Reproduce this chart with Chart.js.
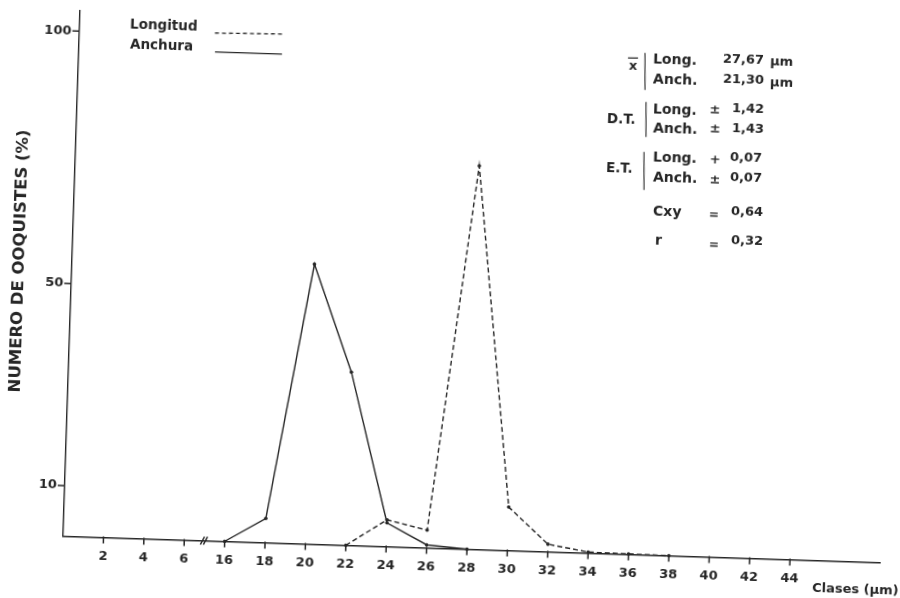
<!DOCTYPE html>
<html>
<head>
<meta charset="utf-8">
<script src="https://cdn.jsdelivr.net/npm/chart.js@4.4.1/dist/chart.umd.min.js"></script>
<style>
  html, body { margin: 0; padding: 0; background: #fff; overflow: hidden; width: 900px; height: 598px; }
  #wrap { position: absolute; left: -20px; top: -21px; width: 940px; height: 640px;
          transform: rotate(1.85deg); transform-origin: 470px 320px; }
</style>
</head>
<body>
<div id="wrap"><canvas id="chart" width="940" height="640"></canvas></div>
<script>
// clases on the x axis (broken between 6 and 16)
const classLabels = ["2", "4", "6", "16", "18", "20", "22", "24", "26", "28", "30", "32", "34", "36", "38", "40", "42", "44"];
const yTickValues = [10, 50, 100];

const anchuraClasses = ["16", "18", "20", "22", "24", "26", "28"];
const anchuraValues = [0, 4.8, 55.4, 34.3, 4.7, 0.6, 0];

const longitudClasses = ["22", "24", "26", "28", "30", "32", "34", "36", "38"];
const longitudValues = [0, 5.3, 3.5, 75.9, 8.6, 1.5, 0.2, 0.1, 0];

const INK = "#262626";
const FONT = "'DejaVu Sans', 'Liberation Sans', sans-serif";

const ANG = 1.85 * Math.PI / 180;
const SIN = Math.sin(ANG), COS = Math.cos(ANG);
function U(xr, yr) {
  const dx = xr - 450, dy = yr - 299;
  return [450 + dx * COS + dy * SIN, 299 - dx * SIN + dy * COS];
}

function toPoints(classes, values) {
  return classes.map((c, i) => ({ x: classLabels.indexOf(c) + 1, y: values[i] }));
}

const overlay = {
  id: "overlay",
  afterDraw(chart) {
    const ctx = chart.ctx;
    const sx = chart.scales.x, sy = chart.scales.y;
    const left = chart.chartArea.left, bottom = chart.chartArea.bottom;

    ctx.save();
    ctx.strokeStyle = INK;
    ctx.lineWidth = 1.5;
    ctx.beginPath();
    // tick marks
    classLabels.forEach((c, i) => {
      const px = sx.getPixelForValue(i + 1);
      ctx.moveTo(px, bottom - 1);
      ctx.lineTo(px, bottom + 6);
    });
    yTickValues.forEach((v) => {
      const py = sy.getPixelForValue(v);
      ctx.moveTo(left - 7, py);
      ctx.lineTo(left, py);
    });
    // axis break marks
    const xb = sx.getPixelForValue(3.5);
    ctx.moveTo(xb - 4, bottom + 4); ctx.lineTo(xb, bottom - 4);
    ctx.moveTo(xb - 1, bottom + 4); ctx.lineTo(xb + 3, bottom - 4);
    ctx.stroke();
    ctx.restore();

    ctx.save();
    ctx.translate(20, 21);
    ctx.fillStyle = INK;
    ctx.strokeStyle = INK;
    ctx.textBaseline = "middle";

    function txt(s, xr, yr, size, align) {
      const p = U(xr, yr);
      ctx.font = "bold " + size + "px " + FONT;
      ctx.textAlign = align || "left";
      ctx.fillText(s, p[0], p[1]);
    }
    function line(x1, y1, x2, y2, dash, w) {
      const a = U(x1, y1), b = U(x2, y2);
      ctx.save();
      ctx.lineWidth = w || 1.3;
      ctx.setLineDash(dash || []);
      ctx.beginPath();
      ctx.moveTo(a[0], a[1]);
      ctx.lineTo(b[0], b[1]);
      ctx.stroke();
      ctx.restore();
    }

    // legend
    txt("Longitud", 130, 25, 13.5);
    txt("Anchura", 130, 45, 13.5);
    line(215, 33, 282, 34, [4, 3]);
    line(215, 52, 282, 54);

    // stats
    txt("x", 633, 66, 13, "center");
    line(628, 58, 638, 58, [], 1.2);
    line(645, 53, 645, 90, [], 1.1);
    txt("Long.", 653, 60, 14);
    txt("27,67", 764, 61, 13, "right");
    txt("µm", 770, 62, 13);
    txt("Anch.", 653, 80, 14);
    txt("21,30", 764, 81, 13, "right");
    txt("µm", 770, 83, 13);

    txt("D.T.", 607, 119, 13.5);
    line(646, 102, 646, 137, [], 1.1);
    txt("Long.", 653, 110, 14);
    txt("±", 715, 110, 13, "center");
    txt("1,42", 764, 110, 13, "right");
    txt("Anch.", 653, 129, 14);
    txt("±", 715, 129, 13, "center");
    txt("1,43", 764, 130, 13, "right");

    txt("E.T.", 606, 168, 13.5);
    line(644, 152, 644, 190, [], 1.1);
    txt("Long.", 653, 158, 14);
    txt("+", 715, 160, 13, "center");
    txt("0,07", 762, 159, 13, "right");
    txt("Anch.", 653, 178, 14);
    txt("±", 715, 180, 13, "center");
    txt("0,07", 762, 179, 13, "right");

    txt("Cxy", 653, 212, 14);
    txt("=", 714, 215, 12, "center");
    txt("0,64", 763, 213, 13, "right");
    txt("r", 655, 241, 14);
    txt("=", 714, 245, 12, "center");
    txt("0,32", 763, 242, 13, "right");

    // axis titles
    txt("Clases (µm)", 812, 588, 13);
    const t = U(20, 261);
    ctx.save();
    ctx.translate(t[0], t[1]);
    ctx.rotate(-Math.PI / 2);
    ctx.font = "bold 16px " + FONT;
    ctx.textAlign = "center";
    const w = ctx.measureText("NUMERO DE OOQUISTES (%)").width;
    ctx.scale(263 / w, 1);
    ctx.fillText("NUMERO DE OOQUISTES (%)", 0, 0);
    ctx.restore();

    ctx.restore();
  }
};

new Chart(document.getElementById("chart"), {
  type: "line",
  data: {
    datasets: [
      {
        label: "Longitud",
        data: toPoints(longitudClasses, longitudValues),
        borderColor: INK,
        backgroundColor: INK,
        borderWidth: 1.4,
        borderDash: [5, 3],
        pointRadius: 1.8,
        pointBorderWidth: 0,
        tension: 0,
        clip: false
      },
      {
        label: "Anchura",
        data: toPoints(anchuraClasses, anchuraValues),
        borderColor: INK,
        backgroundColor: INK,
        borderWidth: 1.4,
        pointRadius: 1.8,
        pointBorderWidth: 0,
        tension: 0,
        clip: false
      }
    ]
  },
  options: {
    responsive: false,
    animation: false,
    devicePixelRatio: 1,
    layout: { padding: { left: 20, top: 44, right: 31.7, bottom: 20.5 } },
    plugins: { legend: { display: false }, tooltip: { enabled: false } },
    scales: {
      x: {
        type: "linear",
        min: 0,
        max: 20.23,
        afterBuildTicks(scale) {
          scale.ticks = classLabels.map((c, i) => ({ value: i + 1 }));
        },
        afterFit(scale) { scale.height = 50; },
        ticks: {
          autoSkip: false,
          maxRotation: 0,
          padding: 3,
          color: INK,
          font: { family: FONT, size: 13, weight: "bold" },
          callback: (v) => classLabels[v - 1]
        },
        grid: { display: false },
        border: { display: true, color: INK, width: 1.4 }
      },
      y: {
        min: 0,
        max: 104,
        afterBuildTicks(scale) {
          scale.ticks = yTickValues.map((v) => ({ value: v }));
        },
        afterFit(scale) { scale.width = 71; },
        ticks: {
          padding: 1,
          color: INK,
          font: { family: FONT, size: 13, weight: "bold" }
        },
        grid: { display: true, drawOnChartArea: false, tickLength: 7, color: "rgba(0,0,0,0)" },
        border: { display: true, color: INK, width: 1.4 }
      }
    }
  },
  plugins: [overlay]
});
</script>
</body>
</html>
